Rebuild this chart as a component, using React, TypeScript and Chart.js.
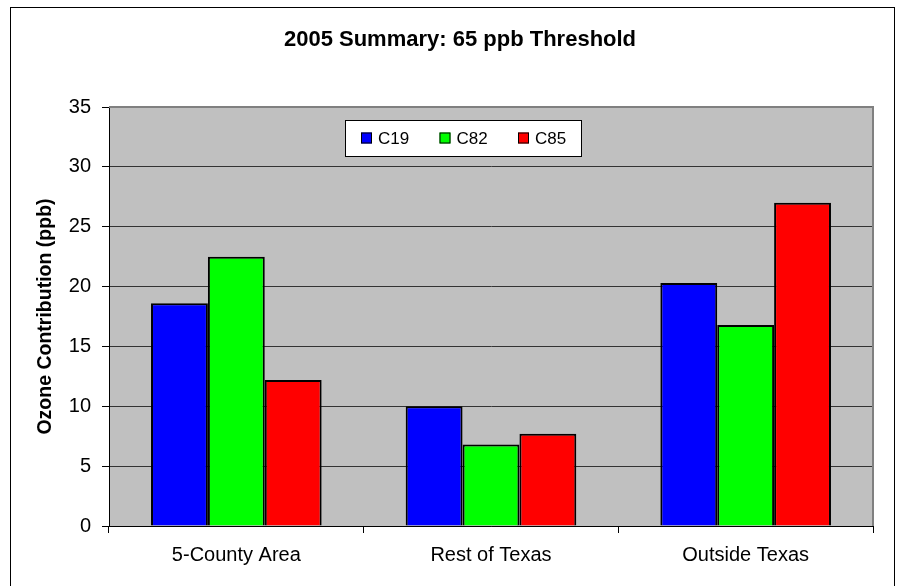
import React, { useEffect, useRef } from 'react';
import { Chart, registerables } from 'chart.js';

Chart.register(...registerables);

const TITLE = '2005 Summary: 65 ppb Threshold';
const Y_TITLE = 'Ozone Contribution (ppb)';
const categories = ['5-County Area', 'Rest of Texas', 'Outside Texas'];
const seriesNames = ['C19', 'C82', 'C85'];
const c19 = [18.6, 10.0, 20.3];
const c82 = [22.5, 6.8, 16.8];
const c85 = [12.2, 7.7, 27.0];
const seriesColors = ['#0000FF', '#00FF00', '#FF0000'];
const Y_MIN = 0;
const Y_MAX = 35;
const Y_STEP = 5;

const FONT = '"Liberation Sans", Arial, Helvetica, sans-serif';
const W = 897;
const H = 586;

const decor = {
  id: 'decor',
  beforeDraw(chart: any) {
    const { ctx, chartArea: a, width, height } = chart;
    ctx.save();
    ctx.fillStyle = '#FFFFFF';
    ctx.fillRect(0, 0, width, height);
    ctx.strokeStyle = '#000000';
    ctx.lineWidth = 1;
    ctx.strokeRect(10.5, 7.5, width - 13, height);
    ctx.fillStyle = '#C0C0C0';
    ctx.fillRect(a.left, a.top, a.right - a.left, a.bottom - a.top);
    ctx.restore();
  },
  afterDraw(chart: any) {
    const { ctx, chartArea: a } = chart;
    ctx.save();
    // plot-area gray frame (top and right)
    ctx.strokeStyle = '#808080';
    ctx.lineWidth = 2;
    ctx.beginPath();
    ctx.moveTo(a.left, a.top);
    ctx.lineTo(a.right, a.top);
    ctx.lineTo(a.right, a.bottom);
    ctx.stroke();

    // title
    ctx.fillStyle = '#000';
    ctx.font = `bold 22px ${FONT}`;
    ctx.textAlign = 'center';
    ctx.textBaseline = 'middle';
    ctx.fillText(TITLE, 460, 40);

    // legend
    const bx = a.left + 236;
    const by = a.top + 13;
    const bw = 236;
    const bh = 36;
    ctx.fillStyle = '#FFFFFF';
    ctx.fillRect(bx, by, bw, bh);
    ctx.strokeStyle = '#000';
    ctx.lineWidth = 1;
    ctx.strokeRect(bx + 0.5, by + 0.5, bw, bh);
    ctx.font = `17px ${FONT}`;
    ctx.textAlign = 'left';
    ctx.textBaseline = 'middle';
    const cy = by + bh / 2;
    chart.data.datasets.forEach((ds: any, i: number) => {
      const sx = bx + 16 + i * 78.5;
      ctx.fillStyle = ds.backgroundColor;
      ctx.fillRect(sx, cy - 5.5, 11, 11);
      ctx.strokeStyle = '#000';
      ctx.strokeRect(sx + 0.5, cy - 5.5 + 0.5, 10, 10);
      ctx.fillStyle = '#000';
      ctx.fillText(ds.label, sx + 17, cy + 1);
    });
    ctx.restore();
  },
};

export default function App() {
  const ref = useRef<HTMLCanvasElement | null>(null);
  useEffect(() => {
    if (!ref.current) return;
    const chart = new Chart(ref.current, {
      type: 'bar',
      data: {
        labels: categories,
        datasets: [c19, c82, c85].map((d, i) => ({
          label: seriesNames[i],
          data: d,
          backgroundColor: seriesColors[i],
          borderColor: '#000000',
          borderWidth: 2,
          categoryPercentage: 0.67,
          barPercentage: 1.0,
        })),
      },
      options: {
        responsive: false,
        animation: false,
        devicePixelRatio: 1,
        layout: { padding: { left: 12, right: 24, top: 107, bottom: 0 } },
        plugins: {
          legend: { display: false },
          title: { display: false },
          tooltip: { enabled: false },
        },
        scales: {
          x: {
            grid: {
              offset: true,
              drawOnChartArea: false,
              drawTicks: true,
              tickLength: 7,
              color: '#000000',
            },
            border: { color: '#000000', width: 1 },
            ticks: {
              color: '#000000',
              font: { family: FONT, size: 20 },
              padding: 10,
            },
            afterFit(scale: any) {
              scale.height = 60;
            },
          },
          y: {
            min: Y_MIN,
            max: Y_MAX,
            ticks: {
              stepSize: Y_STEP,
              color: '#000000',
              font: { family: FONT, size: 20 },
              padding: 11,
            },
            grid: {
              color: '#333333',
              tickColor: '#000000',
              tickLength: 7,
              lineWidth: 1,
            },
            border: { color: '#000000', width: 1 },
            title: {
              display: true,
              text: Y_TITLE,
              color: '#000000',
              font: { family: FONT, size: 19.5, weight: 'bold' },
              padding: { top: 22, bottom: 0 },
            },
            afterFit(scale: any) {
              scale.width = 97;
            },
          },
        },
      },
      plugins: [decor],
    });
    return () => chart.destroy();
  }, []);
  return (
    <div style={{ position: 'fixed', left: 0, top: 0, width: W, height: H, background: '#fff' }}>
      <canvas ref={ref} width={W} height={H} style={{ display: 'block', width: W, height: H }} />
    </div>
  );
}
